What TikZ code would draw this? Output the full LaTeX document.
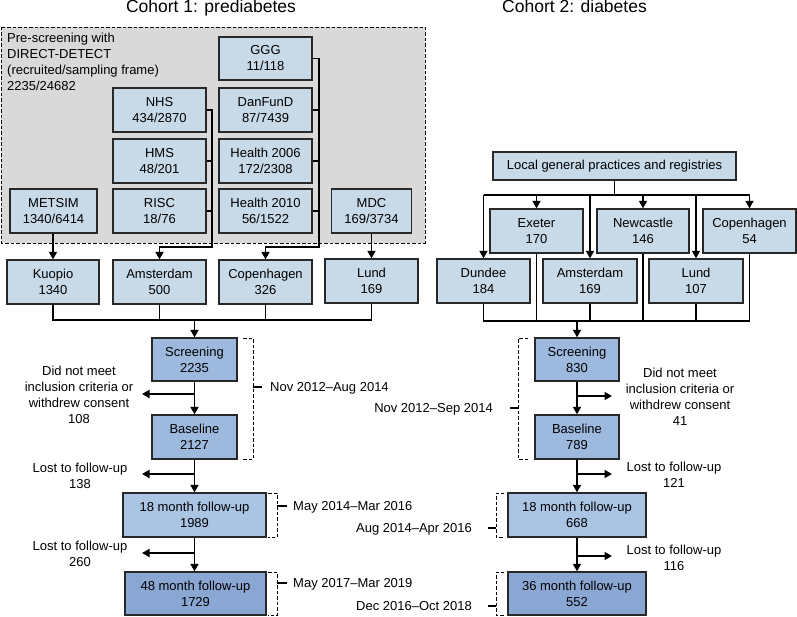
\documentclass[tikz,border=0pt]{standalone}
\usepackage{fontspec}
\setmainfont{Liberation Sans}
\usetikzlibrary{arrows.meta,calc}
\definecolor{boxlight}{RGB}{200,217,232}
\definecolor{boxmid}{RGB}{157,185,222}
\definecolor{boxfu}{RGB}{170,196,228}
\definecolor{boxdark}{RGB}{138,166,210}
\definecolor{bggray}{RGB}{217,217,217}
\definecolor{edgegray}{RGB}{40,40,40}
\begin{document}
\begin{tikzpicture}[x=1pt,y=-1pt,
  txt/.style={font=\fontsize{13}{16}\selectfont, align=center, inner sep=0pt},
  box/.style={txt, draw=edgegray, line width=1.3pt, fill=boxlight, minimum width=93pt, minimum height=44pt},
  arr/.style={line width=1.7pt, -{Triangle[width=8pt,length=7.5pt]}},
  ln/.style={line width=1.7pt},
  bracedash/.style={line width=0.9pt, dash pattern=on 3.5pt off 2pt},
  tick/.style={line width=1.2pt},
  title/.style={font=\fontsize{17.5}{20}\selectfont, inner sep=0pt}
]
\useasboundingbox (0,0) rectangle (797,617);

% titles
\node[title, anchor=base] (t1) at (211,13) {Cohort 1: prediabetes};
\node[title, anchor=base] (t2) at (574.5,13) {Cohort 2: diabetes};

% gray pre-screening area
\draw[fill=bggray, line width=0.9pt, dash pattern=on 3.5pt off 2pt] (1,27) rectangle (425,243);
\node[txt, align=left, anchor=north west] (pre) at (7,32.4) {Pre-screening with\\DIRECT-DETECT\\(recruited/sampling frame)\\2235/24682};

% cohort 1 source boxes
\node[box, minimum height=43pt] (ggg) at (265.5,58.5) {GGG\\11/118};
\node[box] (dan) at (265.5,110) {DanFunD\\87/7439};
\node[box] (h06) at (265.5,161) {Health 2006\\172/2308};
\node[box] (h10) at (265.5,211) {Health 2010\\56/1522};
\node[box] (nhs) at (159.5,110) {NHS\\434/2870};
\node[box] (hms) at (159.5,161) {HMS\\48/201};
\node[box] (risc) at (159.5,211) {RISC\\18/76};
\node[box, minimum width=87pt] (metsim) at (53.5,211) {METSIM\\1340/6414};
\node[box, minimum width=80pt] (mdc) at (371.5,211) {MDC\\169/3734};

% cohort 1 centres
\node[box, minimum width=92pt] (kuo) at (53,282) {Kuopio\\1340};
\node[box] (ams1) at (159.5,282) {Amsterdam\\500};
\node[box] (cph1) at (265.5,282) {Copenhagen\\326};
\node[box] (lund1) at (371.5,281) {Lund\\169};

% cohort 1 flow
\node[box, fill=boxmid, minimum width=85pt, minimum height=43pt] (scr1) at (194.5,359.5) {Screening\\2235};
\node[box, fill=boxmid, minimum width=85pt] (base1) at (194.5,437) {Baseline\\2127};
\node[box, fill=boxfu, minimum width=143pt] (fu1) at (194.5,515) {18 month follow-up\\1989};
\node[box, fill=boxdark, minimum width=141pt, minimum height=43pt] (fl1) at (195.5,593.5) {48 month follow-up\\1729};

% cohort 2
\node[box, minimum width=243pt, minimum height=28pt] (local) at (614.5,166) {Local general practices and registries};
\node[box] (exe) at (536.5,231) {Exeter\\170};
\node[box, minimum width=92pt] (new) at (643,231) {Newcastle\\146};
\node[box, minimum width=93pt] (cph2) at (749.5,231) {Copenhagen\\54};
\node[box] (dun) at (483.5,281) {Dundee\\184};
\node[box, minimum width=94pt] (ams2) at (590,281) {Amsterdam\\169};
\node[box, minimum width=94pt] (lund2) at (696,281) {Lund\\107};

\node[box, fill=boxmid, minimum width=84pt, minimum height=43pt] (scr2) at (577,359.5) {Screening\\830};
\node[box, fill=boxmid, minimum width=84pt] (base2) at (577,437) {Baseline\\789};
\node[box, fill=boxfu, minimum width=138pt] (fu2) at (577,515) {18 month follow-up\\668};
\node[box, fill=boxdark, minimum width=138pt, minimum height=43pt] (fl2) at (577,593.5) {36 month follow-up\\552};

% ---- cohort 1 connectors
\coordinate (amsj) at (212,247);
\coordinate (cphj) at (319,247);
\draw[arr] (nhs.east) -| (amsj) -| (ams1.north);
\draw[ln] (hms.east) -- (hms.east -| amsj);
\draw[ln] (risc.east) -- (risc.east -| amsj);
\draw[arr] (ggg.east) -| (cphj) -| (cph1.north);
\draw[ln] (dan.east) -- (dan.east -| cphj);
\draw[ln] (h06.east) -- (h06.east -| cphj);
\draw[ln] (h10.east) -- (h10.east -| cphj);
\draw[arr] (metsim.south -| kuo.north) -- (kuo.north);
\draw[arr] (mdc.south) -- (lund1.north);

\coordinate (c1bot) at (194.5,320);
\draw[ln] (kuo.south) |- (lund1.south |- c1bot) -- (lund1.south);
\draw[ln] (ams1.south) -- (ams1.south |- c1bot);
\draw[ln] (cph1.south) -- (cph1.south |- c1bot);
\draw[arr] (c1bot) -- (scr1.north);

\draw[arr] (scr1.south) -- (base1.north);
\draw[arr] (base1.south) -- (fu1.north);
\draw[arr] (fu1.south -| base1.south) -- (fl1.north -| base1.south);

\coordinate (e1a) at (194.5,394);
\coordinate (e1b) at (142,394);
\coordinate (e2a) at (194.5,474);
\coordinate (e2b) at (142,474);
\coordinate (e3a) at (194.5,553);
\coordinate (e3b) at (142,553);
\draw[arr] (e1a) -- (e1b);
\draw[arr] (e2a) -- (e2b);
\draw[arr] (e3a) -- (e3b);

\node[txt] (x1) at (79,395) {Did not meet\\inclusion criteria or\\withdrew consent\\108};
\node[txt] (x2) at (80,476) {Lost to follow-up\\138};
\node[txt] (x3) at (80,554) {Lost to follow-up\\260};

% braces cohort 1
\draw[bracedash] (243,338) -- (253,338) -- (253,459) -- (243,459);
\draw[tick] (253,387) -- (262,387);
\draw[bracedash] (268,493) -- (277,493) -- (277,537) -- (268,537);
\draw[tick] (277,506) -- (287,506);
\draw[bracedash] (268,572) -- (277,572) -- (277,615) -- (268,615);
\draw[tick] (277,583) -- (287,583);
\node[txt, anchor=base west] (d1) at (270,391.7) {Nov 2012–Aug 2014};
\node[txt, anchor=base west] (d2) at (293,510.7) {May 2014–Mar 2016};
\node[txt, anchor=base west] (d3) at (293,587.7) {May 2017–Mar 2019};

% ---- cohort 2 connectors
\coordinate (c2top) at (614.5,195);
\draw[ln] (local.south) -- (c2top);
\draw[ln] (dun.north |- c2top) -- (cph2.north |- c2top);
\draw[arr] (dun.north |- c2top) -- (dun.north);
\draw[arr] (exe.north |- c2top) -- (exe.north);
\draw[arr] (ams2.north |- c2top) -- (ams2.north);
\draw[arr] (new.north |- c2top) -- (new.north);
\draw[arr] (lund2.north |- c2top) -- (lund2.north);
\draw[arr] (cph2.north |- c2top) -- (cph2.north);

\coordinate (c2bot) at (577,321);
\draw[ln] (dun.south) |- (cph2.south |- c2bot) -- (cph2.south);
\draw[ln] (exe.south) -- (exe.south |- c2bot);
\draw[ln] (ams2.south) -- (ams2.south |- c2bot);
\draw[ln] (new.south) -- (new.south |- c2bot);
\draw[ln] (lund2.south) -- (lund2.south |- c2bot);
\draw[arr] (c2bot) -- (scr2.north);

\draw[arr] (scr2.south) -- (base2.north);
\draw[arr] (base2.south) -- (fu2.north);
\draw[arr] (fu2.south) -- (fl2.north);

\coordinate (f1a) at (577,396);
\coordinate (f1b) at (612,396);
\coordinate (f2a) at (577,474);
\coordinate (f2b) at (612,474);
\coordinate (f3a) at (577,556);
\coordinate (f3b) at (612,556);
\draw[arr] (f1a) -- (f1b);
\draw[arr] (f2a) -- (f2b);
\draw[arr] (f3a) -- (f3b);

\node[txt] (y1) at (680,397) {Did not meet\\inclusion criteria or\\withdrew consent\\41};
\node[txt] (y2) at (674,475) {Lost to follow-up\\121};
\node[txt] (y3) at (674,558) {Lost to follow-up\\116};

% braces cohort 2
\draw[bracedash] (528,338) -- (518,338) -- (518,459) -- (528,459);
\draw[tick] (518,408) -- (510,408);
\draw[bracedash] (504,493) -- (496,493) -- (496,537) -- (504,537);
\draw[tick] (496,528) -- (488,528);
\draw[bracedash] (504,572) -- (496,572) -- (496,615) -- (504,615);
\draw[tick] (496,606) -- (488,606);
\node[txt, anchor=base east] (g1) at (493,412.7) {Nov 2012–Sep 2014};
\node[txt, anchor=base east] (g2) at (472,532.7) {Aug 2014–Apr 2016};
\node[txt, anchor=base east] (g3) at (472,610.7) {Dec 2016–Oct 2018};
\end{tikzpicture}
\end{document}
